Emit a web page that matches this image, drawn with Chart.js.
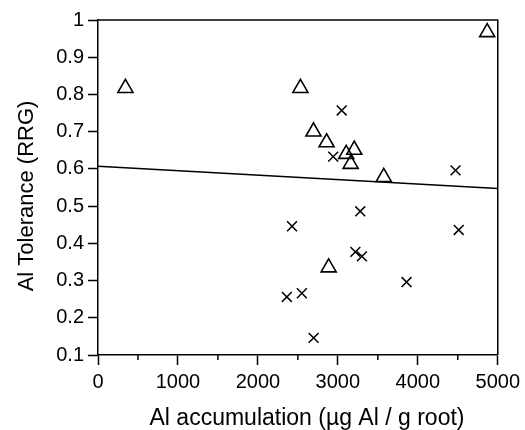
<!DOCTYPE html>
<html>
<head>
<meta charset="utf-8">
<title>Al tolerance vs Al accumulation</title>
<script src="https://cdn.jsdelivr.net/npm/chart.js@4/dist/chart.umd.min.js"></script>
<style>
  html, body { margin: 0; padding: 0; background: #fff; }
  #wrap { width: 525px; height: 430px; }
</style>
</head>
<body>
<div id="wrap"><canvas id="myChart" width="525" height="430"></canvas></div>
<script>
// open triangles
const triAccum = [343, 2532, 2695, 2859, 3104, 3205, 3160, 3574, 4868, 2885];
const triTol   = [0.817, 0.817, 0.70, 0.671, 0.640, 0.651, 0.613, 0.578, 0.967, 0.335];

// crosses
const crossAccum = [3048, 2942, 4472, 3280, 2427, 4512, 3219, 3301, 3859, 2362, 2550, 2697];
const crossTol   = [0.757, 0.633, 0.596, 0.486, 0.446, 0.436, 0.377, 0.365, 0.296, 0.256, 0.266, 0.146];

// fitted line
const fitAccum = [0, 5000];
const fitTol   = [0.607, 0.547];

const xTicks = [0, 1000, 2000, 3000, 4000, 5000];
const xMinorTicks = [500, 1500, 2500, 3500, 4500];

const xTitle = 'Al accumulation (µg Al / g root)';
const yTitle = 'Al Tolerance (RRG)';

const FONT = "'Liberation Sans', Arial, sans-serif";

const toPoints = (xs, ys) => xs.map((x, i) => ({ x: x, y: ys[i] }));

// top/right frame lines, short minor ticks on the x axis, axis titles
const framePlugin = {
  id: 'frame',
  afterDraw(chart) {
    const { ctx, chartArea } = chart;
    const xs = chart.scales.x;
    ctx.save();
    ctx.strokeStyle = '#000';
    ctx.lineWidth = 1.5;
    ctx.beginPath();
    ctx.moveTo(chartArea.left, chartArea.top);
    ctx.lineTo(chartArea.right, chartArea.top);
    ctx.lineTo(chartArea.right, chartArea.bottom);
    ctx.stroke();
    ctx.beginPath();
    xMinorTicks.forEach(v => {
      const px = xs.getPixelForValue(v);
      ctx.moveTo(px, chartArea.bottom);
      ctx.lineTo(px, chartArea.bottom + 5);
    });
    ctx.stroke();

    ctx.fillStyle = '#000';
    ctx.textAlign = 'center';
    ctx.textBaseline = 'alphabetic';
    ctx.font = '23px ' + FONT;
    ctx.fillText(xTitle, 307, 425);

    ctx.translate(33, 196);
    ctx.rotate(-Math.PI / 2);
    ctx.font = '22px ' + FONT;
    ctx.fillText(yTitle, 0, 0);
    ctx.restore();
  }
};

new Chart(document.getElementById('myChart').getContext('2d'), {
  type: 'scatter',
  data: {
    datasets: [
      {
        type: 'line',
        data: toPoints(fitAccum, fitTol),
        borderColor: '#000',
        borderWidth: 1.5,
        pointRadius: 0,
        fill: false
      },
      {
        data: toPoints(triAccum, triTol),
        pointStyle: 'triangle',
        pointRadius: 8.7,
        pointBorderWidth: 1.6,
        borderColor: '#000',
        backgroundColor: 'rgba(0,0,0,0)'
      },
      {
        data: toPoints(crossAccum, crossTol),
        pointStyle: 'crossRot',
        pointRadius: 7,
        pointBorderWidth: 1.5,
        borderColor: '#000',
        backgroundColor: '#000'
      }
    ]
  },
  options: {
    responsive: false,
    animation: false,
    layout: { padding: { left: 0, top: 20, right: 18, bottom: 0 } },
    plugins: {
      legend: { display: false },
      tooltip: { enabled: false }
    },
    scales: {
      x: {
        type: 'linear',
        min: 0,
        max: 5000,
        afterBuildTicks: scale => { scale.ticks = xTicks.map(v => ({ value: v })); },
        afterFit: scale => { scale.height = 75; },
        border: { color: '#000', width: 1.5 },
        grid: { drawOnChartArea: false, color: '#000', tickLength: 10, tickWidth: 1.5 },
        ticks: {
          color: '#000',
          padding: 5,
          maxRotation: 0,
          font: { family: FONT, size: 20 },
          callback: v => String(v)
        }
      },
      y: {
        type: 'linear',
        min: 0.1,
        max: 1,
        afterFit: scale => { scale.width = 98; },
        border: { color: '#000', width: 1.5 },
        grid: { drawOnChartArea: false, color: '#000', tickLength: 10, tickWidth: 1.5 },
        ticks: {
          stepSize: 0.1,
          color: '#000',
          padding: 4,
          font: { family: FONT, size: 20 },
          callback: v => String(Number(v.toFixed(1)))
        }
      }
    }
  },
  plugins: [framePlugin]
});
</script>
</body>
</html>
